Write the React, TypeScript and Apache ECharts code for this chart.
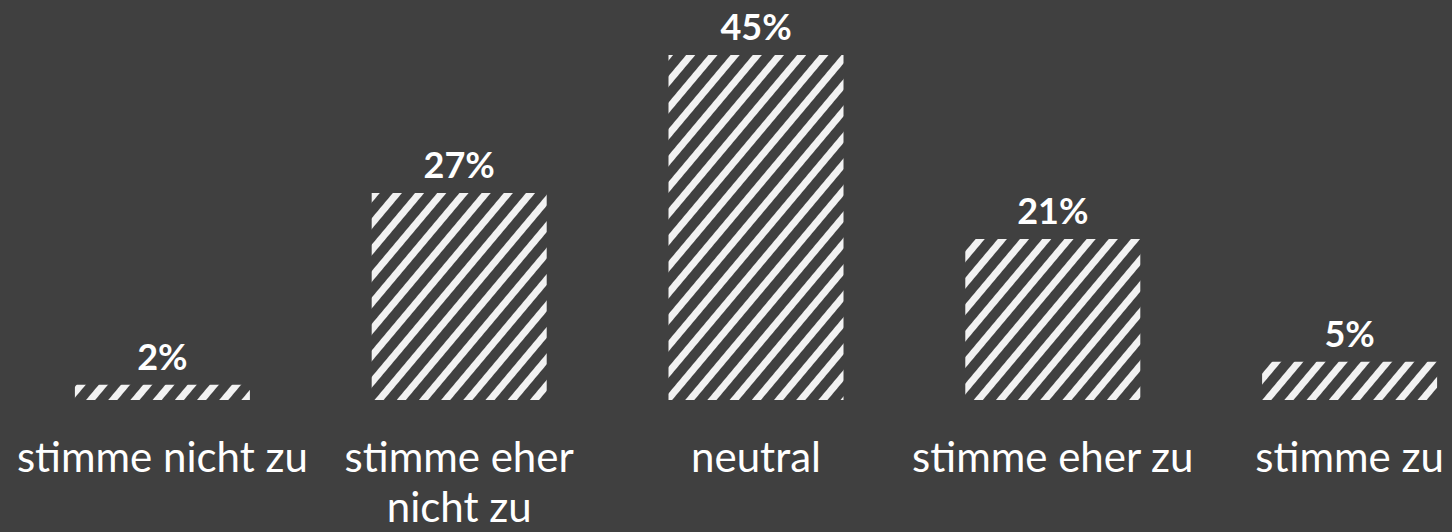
import React, { useEffect, useRef } from "react";
import * as echarts from "echarts";

const categories = [
  "stimme nicht zu",
  "stimme eher\nnicht zu",
  "neutral",
  "stimme eher zu",
  "stimme zu",
];
const values = [2, 27, 45, 21, 5];

export default function App() {
  const ref = useRef<HTMLDivElement>(null);
  useEffect(() => {
    document.body.style.margin = "0";
    document.body.style.background = "#404040";
    const chart = echarts.init(ref.current!, null, { renderer: "svg" });
    chart.setOption({
      animation: false,
      backgroundColor: "#404040",
      grid: { left: 14, right: 0, top: 55, bottom: 132, containLabel: false },
      xAxis: {
        type: "category",
        data: categories,
        axisLine: { show: false },
        axisTick: { show: false },
        axisLabel: {
          color: "#ffffff",
          fontFamily: "Lato",
          fontSize: 42,
          lineHeight: 50,
          margin: 31,
          interval: 0,
        },
      },
      yAxis: { type: "value", min: 0, max: 45, show: false, splitLine: { show: false } },
      series: [
        {
          type: "bar",
          data: values,
          barWidth: 175,
          itemStyle: {
            color: "rgba(64,64,64,0)",
            decal: {
              symbol: "rect",
              symbolSize: 1,
              dashArrayX: [1, 0],
              dashArrayY: [7, 10],
              rotation: (-50 * Math.PI) / 180,
              color: "#f2f2f2",
            },
          },
          label: {
            show: true,
            position: "top",
            distance: 11,
            formatter: "{c}%",
            color: "#ffffff",
            fontFamily: "Lato",
            fontWeight: "bold",
            fontSize: 36,
          },
        },
      ],
    });
    return () => chart.dispose();
  }, []);
  return (
    <div
      style={{
        position: "fixed",
        left: 0,
        top: 0,
        width: 1452,
        height: 532,
        overflow: "hidden",
        background: "#404040",
      }}
    >
      <div ref={ref} style={{ width: 1498, height: 532 }} />
    </div>
  );
}
